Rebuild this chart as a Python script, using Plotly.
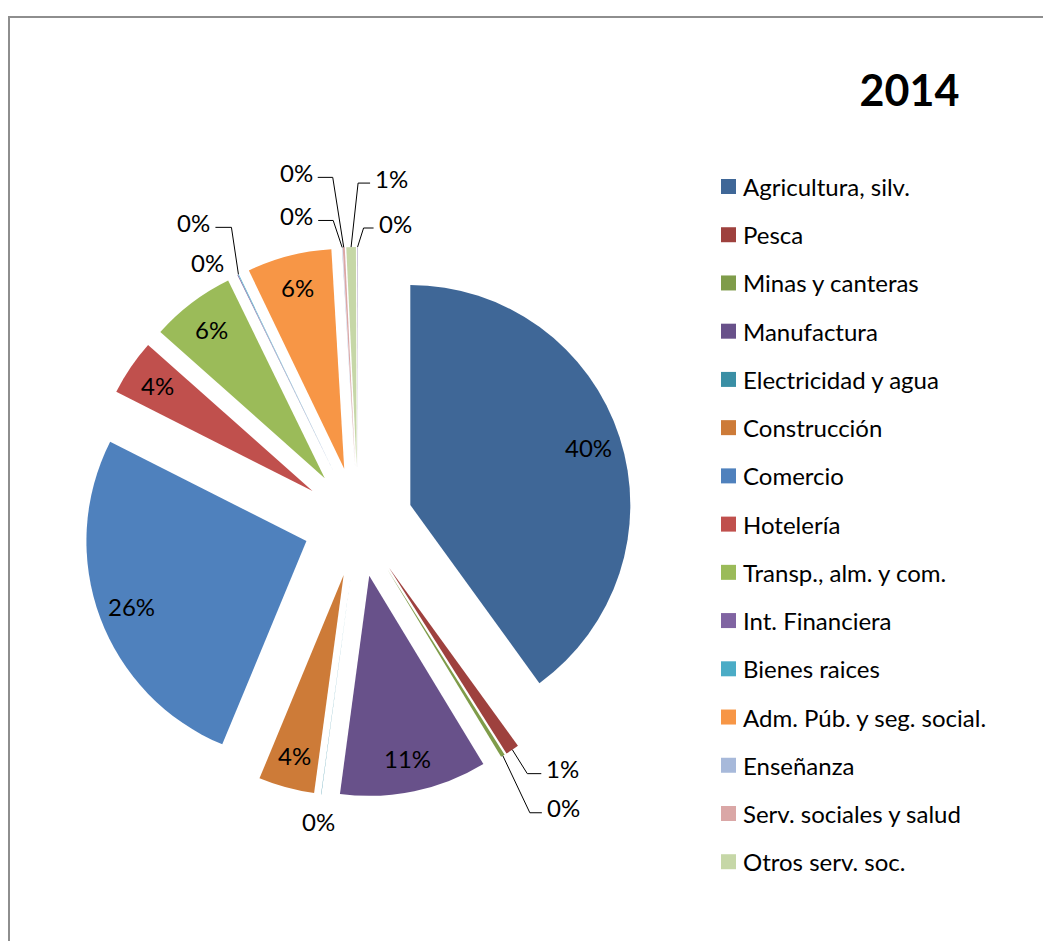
import math
import plotly.graph_objects as go

# ---- data ---------------------------------------------------------------
anio = "2014"
sectores = [
    "Agricultura, silv.", "Pesca", "Minas y canteras", "Manufactura",
    "Electricidad y agua", "Construcción", "Comercio", "Hotelería",
    "Transp., alm. y com.", "Int. Financiera", "Bienes raices",
    "Adm. Púb. y seg. social.", "Enseñanza", "Serv. sociales y salud",
    "Otros serv. soc.", "Hogares privados",
]
participacion = [40.0, 1.0, 0.3, 10.8, 0.02, 4.1, 26.2, 4.1, 6.2, 0.05, 0.05,
                 6.2, 0.03, 0.15, 0.7, 0.05]
colores = [
    "#3F6797", "#9E413E", "#7F9C4A", "#68518A", "#3A8FA5", "#CD7B38",
    "#4F81BD", "#C0504D", "#9BBB59", "#8064A2", "#4BACC6", "#F79646",
    "#A7B9DA", "#DAA7A6", "#C6D7A7", "#B9ADCB",
]
en_leyenda = sectores[:15]

# ---- page / pie geometry (pixels) ------------------------------------------
W, H = 1043, 941
CX, CY = 358, 522          # pie centre
BOX = 550                  # side of the square pie domain
PULL = 0.25                # every slice exploded by a quarter radius
R = BOX / (2 + 2 * PULL)   # radius plotly uses for a pulled pie
FONT = "Lato, Calibri, 'Open Sans', sans-serif"


def px(x):
    return x / W


def py(y):
    return 1 - y / H


total = sum(participacion)
mids = []
acc = 0.0
for v in participacion:
    mids.append((acc + v / 2) / total * 2 * math.pi)
    acc += v


def polar(theta, dist):
    return CX + dist * math.sin(theta), CY - dist * math.cos(theta)


etiquetas = [f"{round(v / total * 100)}%" for v in participacion]

fig = go.Figure(go.Pie(
    labels=sectores,
    values=participacion,
    sort=False,
    direction="clockwise",
    rotation=0,
    pull=[PULL] * len(sectores),
    marker=dict(colors=colores, line=dict(width=0)),
    textinfo="none",
    hoverinfo="label+percent",
    showlegend=False,
    domain=dict(x=[px(CX - BOX / 2), px(CX + BOX / 2)],
                y=[py(CY + BOX / 2), py(CY - BOX / 2)]),
))

annotations = []
shapes = []
label_font = dict(family=FONT, size=24, color="black")

# offsets of the outside labels from the slice's outer edge:
# (text dx, text dy, anchor, elbow dx or None for no leader line)
fuera = {
    "Pesca": (32, 19, "left", 15),
    "Minas y canteras": (42, 52, "left", 27),
    "Electricidad y agua": (-3, 27, "center", None),
    "Int. Financiera": (-30, -12, "center", None),
    "Bienes raices": (-26, -52, "right", -7),
    "Enseñanza": (-27, -32, "right", -9),
    "Serv. sociales y salud": (-29, -75, "right", -11),
    "Otros serv. soc.": (22, -69, "left", 7),
    "Hogares privados": (19, -24, "left", 6),
}

for nombre, theta, txt in zip(sectores, mids, etiquetas):
    if nombre in fuera:
        dx, dy, anchor, ex = fuera[nombre]
        ox, oy = polar(theta, (1 + PULL) * R)
        tx, ty = ox + dx, oy + dy
        annotations.append(dict(x=px(tx), y=py(ty), xref="paper", yref="paper",
                                text=txt, showarrow=False, xanchor=anchor,
                                yanchor="middle", font=label_font))
        if ex is not None:
            ly = ty + 5
            end = tx - 3 if anchor == "left" else tx + 3
            path = (f"M {px(ox)},{py(oy)} L {px(ox + ex)},{py(ly)} "
                    f"L {px(end)},{py(ly)}")
            shapes.append(dict(type="path", path=path, xref="paper", yref="paper",
                               line=dict(color="black", width=1)))
    else:
        tx, ty = polar(theta, (PULL + 0.85) * R)
        annotations.append(dict(x=px(tx), y=py(ty), xref="paper", yref="paper",
                                text=txt, showarrow=False, xanchor="center",
                                yanchor="middle", font=label_font))

# legend drawn as swatches + text
LEG_X, LEG_Y0, LEG_STEP, SW = 721, 186.5, 48.23, 15
for i, (nombre, color) in enumerate(zip(en_leyenda, colores)):
    yc = LEG_Y0 + i * LEG_STEP
    shapes.append(dict(type="rect", xref="paper", yref="paper",
                       x0=px(LEG_X), x1=px(LEG_X + SW),
                       y0=py(yc + SW / 2), y1=py(yc - SW / 2),
                       fillcolor=color, line=dict(width=0)))
    annotations.append(dict(x=px(LEG_X + SW + 5), y=py(yc), xref="paper",
                            yref="paper", text=nombre, showarrow=False,
                            xanchor="left", yanchor="middle", font=label_font))

# chart-area frame (top and left edges visible)
shapes.append(dict(type="path", xref="paper", yref="paper",
                   path=f"M {px(9)},-0.05 L {px(9)},{py(17)} L 1.05,{py(17)}",
                   line=dict(color="#8E8E8E", width=2)))

fig.update_layout(
    width=W, height=H,
    margin=dict(l=0, r=0, t=0, b=0),
    paper_bgcolor="white",
    plot_bgcolor="white",
    title=dict(text=f"<b>{anio}</b>", x=px(909.5), y=py(91),
               xanchor="center", yanchor="middle",
               font=dict(family=FONT, size=43, color="black")),
    annotations=annotations,
    shapes=shapes,
    showlegend=False,
)

fig.write_html("out.html")
